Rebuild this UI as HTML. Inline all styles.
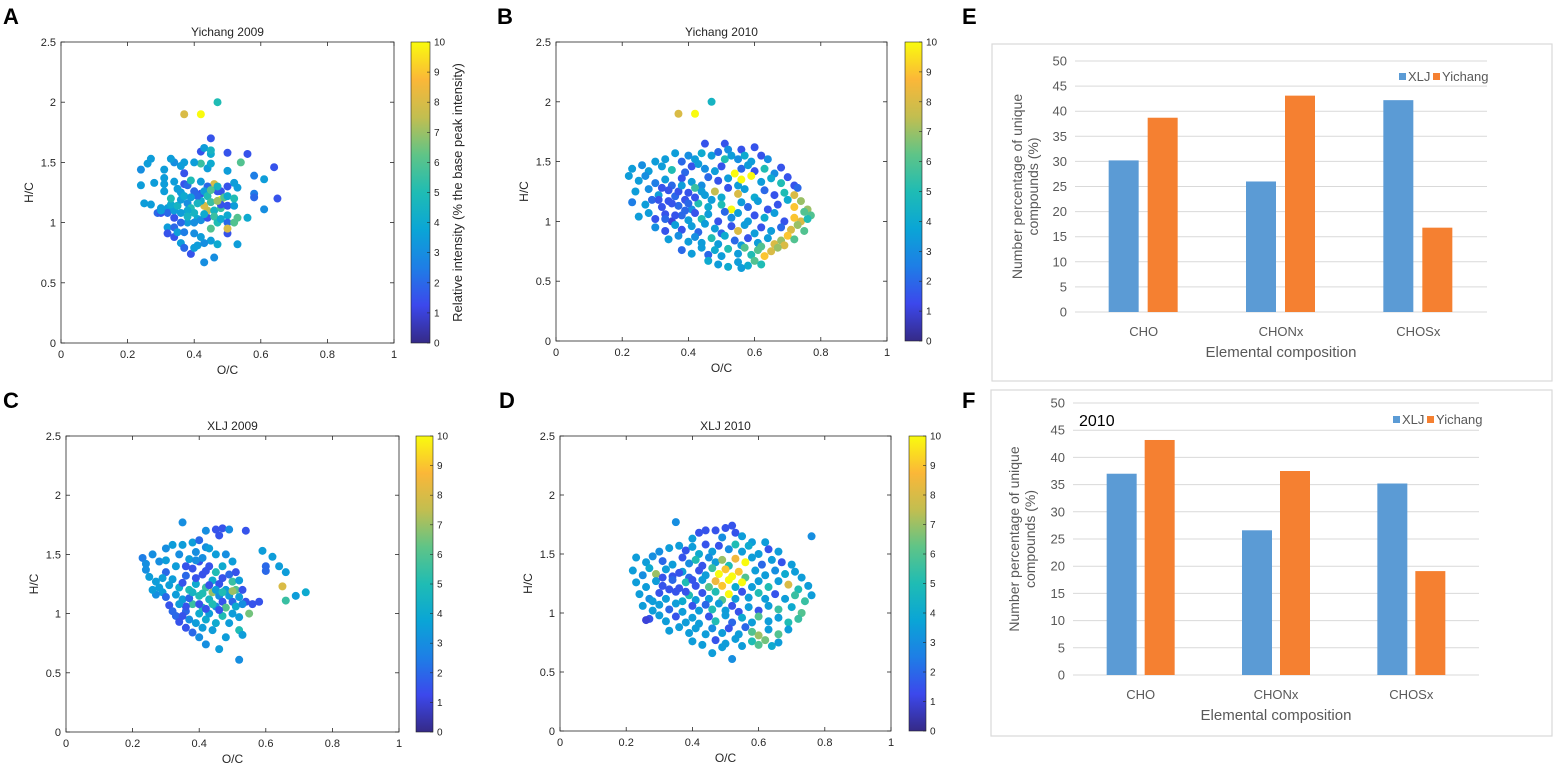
<!DOCTYPE html>
<html><head><meta charset="utf-8"><style>
body{margin:0;background:#fff;}
svg{display:block;font-family:"Liberation Sans",sans-serif;}
</style></head><body>
<svg id="fig" width="1556" height="765" viewBox="0 0 1556 765" xmlns="http://www.w3.org/2000/svg">
<defs>
<linearGradient id="parula" x1="0" y1="1" x2="0" y2="0">
<stop offset="0" stop-color="#352a87"/><stop offset="0.125" stop-color="#3c48ec"/><stop offset="0.25" stop-color="#1e7ee6"/><stop offset="0.375" stop-color="#0aa5d6"/><stop offset="0.5" stop-color="#1fbcb4"/><stop offset="0.625" stop-color="#5fc487"/><stop offset="0.75" stop-color="#c2be50"/><stop offset="0.875" stop-color="#fbb738"/><stop offset="1" stop-color="#f9fb0e"/>
</linearGradient>
</defs>
<g font-weight="bold" font-size="22" fill="#000">
<text x="3" y="24">A</text>
<text x="497" y="24">B</text>
<text x="3" y="408">C</text>
<text x="499" y="408">D</text>
<text x="962" y="24">E</text>
<text x="962" y="408">F</text>
</g>
</svg>
<script>
const ptsA=[[0.37,1.9,8],[0.42,1.9,10],[0.47,2.0,5],[0.45,1.7,1.5],[0.42,1.59,1.5],[0.43,1.62,3.5],[0.45,1.57,4],[0.45,1.6,4.5],[0.5,1.58,1.5],[0.56,1.57,1.5],[0.54,1.5,6],[0.64,1.46,1.5],[0.65,1.2,1.5],[0.61,1.11,3],[0.58,1.24,2.5],[0.58,1.21,2],[0.58,1.39,2.5],[0.61,1.36,3.5],[0.56,1.04,4],[0.53,0.82,3.5],[0.5,0.91,1.5],[0.5,1.43,3.5],[0.5,1.3,1.5],[0.48,1.26,1.5],[0.46,1.32,8],[0.44,1.3,2],[0.42,1.24,1.5],[0.42,1.34,3.5],[0.42,1.49,5.5],[0.44,1.45,3.5],[0.45,1.49,4],[0.4,1.5,3.5],[0.37,1.5,3.5],[0.36,1.47,3.5],[0.34,1.5,3],[0.33,1.53,3.5],[0.37,1.41,1.5],[0.37,1.32,1.5],[0.38,1.31,2],[0.39,1.35,5],[0.34,1.34,3.5],[0.31,1.44,3.5],[0.31,1.37,3.5],[0.31,1.32,3.5],[0.31,1.26,3.5],[0.28,1.33,3.5],[0.27,1.53,3.5],[0.26,1.49,3.5],[0.24,1.44,3],[0.24,1.31,3.5],[0.25,1.16,3.5],[0.27,1.15,3.5],[0.29,1.08,2],[0.3,1.12,3.5],[0.3,1.08,1.5],[0.32,1.12,3.5],[0.32,1.08,2],[0.32,0.96,3.5],[0.32,0.91,1.5],[0.34,0.96,2],[0.34,0.88,1.5],[0.35,0.92,3.5],[0.36,0.83,3.5],[0.37,0.79,2],[0.39,0.74,1.5],[0.4,0.79,3.5],[0.41,0.81,3.5],[0.43,0.67,3],[0.46,0.71,3],[0.45,0.85,3.5],[0.47,0.82,4],[0.43,0.83,3],[0.42,0.88,3.5],[0.4,0.91,3],[0.37,0.92,2.5],[0.38,1.0,3.5],[0.36,1.0,2],[0.34,1.04,1.5],[0.34,1.1,3.5],[0.33,1.15,4],[0.33,1.2,5],[0.35,1.14,4.5],[0.36,1.19,3.5],[0.36,1.25,3.5],[0.37,1.22,4],[0.38,1.16,3],[0.39,1.12,5],[0.4,1.08,4.5],[0.41,1.03,4],[0.4,1.0,3],[0.42,1.02,3],[0.44,1.04,1.5],[0.45,0.95,6],[0.44,1.1,7.5],[0.43,1.14,8],[0.42,1.18,4],[0.41,1.22,2],[0.43,1.26,3.5],[0.44,1.22,5],[0.45,1.17,5.5],[0.46,1.1,4.5],[0.46,1.05,5.5],[0.47,1.0,5],[0.48,1.03,4],[0.48,1.12,5.5],[0.48,1.19,10],[0.47,1.26,1.5],[0.49,1.21,6],[0.48,1.15,1.5],[0.5,1.14,1.5],[0.5,1.22,4],[0.5,1.06,4],[0.5,1.0,2],[0.52,1.0,6],[0.53,1.04,6],[0.5,0.95,8],[0.52,1.14,3.5],[0.53,1.29,3.5],[0.52,1.33,3.5],[0.52,1.2,5],[0.47,1.18,7],[0.45,1.27,6],[0.47,1.3,4.5],[0.4,1.26,2],[0.39,1.21,3.5],[0.38,1.1,4],[0.36,1.08,3.5],[0.38,1.05,4.5],[0.41,1.16,4.5],[0.43,1.07,4],[0.35,1.28,3.5],[0.3,1.1,3.5]];
const ptsB=[[0.37,1.9,8],[0.42,1.9,10],[0.47,2.0,4.5],[0.45,1.65,1.5],[0.51,1.65,1.5],[0.6,1.62,1.5],[0.56,1.6,1.5],[0.52,1.6,3],[0.36,1.57,3.5],[0.4,1.55,3],[0.42,1.52,3.5],[0.44,1.57,4],[0.47,1.55,3.5],[0.49,1.58,2],[0.51,1.52,5],[0.53,1.55,3.5],[0.55,1.52,3],[0.57,1.55,4],[0.59,1.5,3.5],[0.62,1.55,1.5],[0.64,1.52,3],[0.3,1.5,3.5],[0.33,1.52,3.5],[0.38,1.5,2],[0.26,1.47,3],[0.23,1.44,3.5],[0.28,1.42,3.5],[0.32,1.46,3.5],[0.35,1.43,5],[0.39,1.41,2],[0.41,1.46,1.5],[0.45,1.44,3],[0.48,1.42,3.5],[0.5,1.46,1.5],[0.54,1.4,10],[0.56,1.44,2],[0.58,1.47,3.5],[0.6,1.42,1.5],[0.63,1.44,5],[0.66,1.4,3],[0.68,1.45,1.5],[0.43,1.48,3.5],[0.22,1.38,3.5],[0.25,1.34,3.5],[0.27,1.38,3],[0.3,1.32,2.5],[0.33,1.35,3.5],[0.35,1.3,2],[0.38,1.36,1.5],[0.41,1.33,3.5],[0.44,1.3,3],[0.46,1.37,2],[0.49,1.34,1.5],[0.52,1.36,3.5],[0.55,1.3,3.5],[0.56,1.35,10],[0.59,1.38,10],[0.62,1.33,3.5],[0.65,1.36,4],[0.68,1.32,5],[0.7,1.37,1.5],[0.72,1.3,1.5],[0.24,1.25,3.5],[0.28,1.27,3],[0.31,1.22,3.5],[0.34,1.26,1.5],[0.36,1.21,2],[0.4,1.24,1.5],[0.42,1.28,5.5],[0.45,1.22,3.5],[0.48,1.25,7.5],[0.5,1.2,4],[0.52,1.28,1.5],[0.55,1.23,8],[0.57,1.27,3.5],[0.6,1.2,4],[0.63,1.26,2],[0.66,1.22,1.5],[0.69,1.24,5],[0.72,1.22,8],[0.74,1.17,7],[0.76,1.1,7],[0.73,1.28,2],[0.23,1.16,2.5],[0.27,1.14,3.5],[0.29,1.18,2],[0.32,1.12,1.5],[0.34,1.17,1.5],[0.37,1.13,2],[0.39,1.18,1.5],[0.41,1.1,3],[0.43,1.15,5],[0.46,1.12,4],[0.47,1.18,3.5],[0.5,1.14,5],[0.53,1.1,10],[0.56,1.16,3.5],[0.58,1.12,2],[0.61,1.17,3.5],[0.64,1.1,1.5],[0.67,1.14,1.5],[0.7,1.18,4],[0.72,1.12,9],[0.75,1.08,6],[0.77,1.05,6],[0.25,1.04,3.5],[0.28,1.07,3.5],[0.3,1.02,1.5],[0.33,1.06,1.5],[0.35,1.0,1],[0.38,1.05,2],[0.4,1.01,3.5],[0.42,1.07,1.5],[0.44,1.02,5],[0.46,1.06,3.5],[0.49,1.0,1.5],[0.51,1.08,2],[0.53,1.03,3],[0.55,1.07,3.5],[0.58,1.0,3.5],[0.6,1.05,1.5],[0.63,1.03,4],[0.66,1.07,3.5],[0.69,1.0,1.5],[0.72,1.03,9],[0.74,1.0,8],[0.76,1.02,5],[0.3,0.95,3],[0.33,0.92,1.5],[0.36,0.97,3.5],[0.38,0.93,1.5],[0.41,0.96,3.5],[0.43,0.91,2],[0.45,0.98,3.5],[0.48,0.94,3.5],[0.5,0.9,2],[0.53,0.96,1.5],[0.55,0.92,8],[0.57,0.97,3.5],[0.6,0.9,3.5],[0.62,0.95,1.5],[0.65,0.92,3.5],[0.68,0.95,2],[0.71,0.93,8],[0.73,0.97,7],[0.75,0.92,6],[0.34,0.85,3.5],[0.37,0.88,3],[0.4,0.83,3.5],[0.42,0.87,3],[0.44,0.82,3.5],[0.47,0.86,5],[0.49,0.81,3.5],[0.51,0.88,4],[0.54,0.84,2],[0.56,0.8,3.5],[0.58,0.86,1.5],[0.61,0.82,3.5],[0.64,0.86,3.5],[0.66,0.81,8],[0.68,0.84,7],[0.7,0.88,9],[0.72,0.85,6],[0.69,0.8,8],[0.38,0.76,2],[0.41,0.73,3.5],[0.44,0.78,3.5],[0.46,0.72,2],[0.48,0.76,4],[0.5,0.71,3.5],[0.52,0.77,5],[0.55,0.73,3.5],[0.57,0.78,6],[0.59,0.72,5],[0.61,0.76,6],[0.63,0.71,9],[0.65,0.75,8],[0.67,0.78,7],[0.62,0.79,6],[0.46,0.67,4],[0.49,0.64,3.5],[0.52,0.62,4],[0.55,0.66,3.5],[0.58,0.63,4],[0.6,0.67,6],[0.62,0.64,5],[0.56,0.61,3.5],[0.32,1.28,1.5],[0.35,1.15,1.5],[0.37,1.25,1.5],[0.39,1.09,2],[0.33,1.02,2],[0.36,1.05,1.5],[0.31,1.18,1.5],[0.4,1.15,2],[0.42,1.2,1.5],[0.44,1.25,3.5],[0.38,1.3,3.5]];
const ptsC=[[0.35,1.77,3],[0.52,0.61,3],[0.59,1.53,3.5],[0.62,1.48,3.5],[0.6,1.4,2],[0.6,1.36,2],[0.64,1.4,3.5],[0.66,1.35,3.5],[0.65,1.23,8],[0.66,1.11,5.5],[0.69,1.15,3.5],[0.72,1.18,4],[0.58,1.1,1.5],[0.56,1.08,1.5],[0.54,1.1,1.5],[0.55,1.0,6.5],[0.52,0.86,5],[0.53,0.82,3.5],[0.42,1.7,3],[0.45,1.71,1.5],[0.47,1.72,1.5],[0.49,1.71,3],[0.54,1.7,1.5],[0.46,1.66,1.5],[0.23,1.47,2.5],[0.24,1.42,3],[0.24,1.37,3],[0.25,1.31,3.5],[0.26,1.5,3],[0.27,1.27,3.5],[0.28,1.22,3.5],[0.28,1.44,3],[0.29,1.18,3.5],[0.3,1.55,3],[0.3,1.35,2],[0.3,1.14,2],[0.31,1.07,1.5],[0.32,1.58,3.5],[0.32,1.29,3.5],[0.32,1.02,2],[0.33,0.98,2],[0.33,1.4,3.5],[0.34,1.5,3],[0.34,1.22,4],[0.34,0.93,1.5],[0.35,1.58,3.5],[0.35,1.12,3.5],[0.36,1.32,2],[0.36,1.02,2],[0.36,0.88,1.5],[0.37,1.46,3.5],[0.37,1.2,5],[0.37,0.95,3],[0.38,1.6,3.5],[0.38,1.38,1.5],[0.38,1.08,5.5],[0.38,0.84,2],[0.39,1.52,3],[0.39,1.25,4],[0.39,0.92,3.5],[0.4,1.62,2],[0.4,1.44,1.5],[0.4,1.15,5],[0.4,1.0,4],[0.4,0.8,3],[0.41,1.33,1.5],[0.41,1.05,5],[0.41,0.88,3.5],[0.42,1.56,3],[0.42,1.22,5.5],[0.42,0.95,4],[0.42,0.74,3],[0.43,1.4,1.5],[0.43,1.12,4.5],[0.43,1.0,3.5],[0.44,1.28,4],[0.44,1.18,7],[0.44,0.86,3.5],[0.45,1.5,3.5],[0.45,1.35,5],[0.45,1.06,3],[0.45,0.92,4],[0.46,1.25,1.5],[0.46,1.15,3],[0.46,0.7,3.5],[0.47,1.4,4],[0.47,1.3,1.5],[0.47,1.1,1.5],[0.47,0.98,5],[0.48,1.2,3.5],[0.48,1.05,6],[0.48,0.8,3.5],[0.49,1.33,2],[0.49,1.15,3.5],[0.49,0.92,3.5],[0.5,1.44,3.5],[0.5,1.27,5.5],[0.5,1.1,2],[0.5,1.0,3.5],[0.51,1.35,1.5],[0.51,1.2,6],[0.51,1.06,4],[0.52,1.14,3.5],[0.52,1.28,3.5],[0.52,0.97,3.5],[0.53,1.2,1.5],[0.53,1.08,3],[0.33,1.16,3.5],[0.35,1.26,1.5],[0.36,1.06,1.5],[0.37,1.13,2],[0.38,1.18,4.5],[0.39,1.3,1.5],[0.4,1.08,1.5],[0.41,1.17,5],[0.42,1.04,1.5],[0.43,1.24,1.5],[0.44,1.08,5],[0.45,1.2,3.5],[0.46,1.03,1.5],[0.35,0.98,1.5],[0.34,1.08,3.5],[0.31,1.24,3.5],[0.29,1.3,3.5],[0.27,1.16,3],[0.26,1.2,3.5],[0.3,1.45,3.5],[0.39,1.45,3],[0.43,1.55,3.5],[0.48,1.5,3],[0.36,1.4,1.5],[0.42,1.36,1.5],[0.41,1.47,3],[0.47,1.18,5],[0.5,1.19,7]];
const ptsD=[[0.35,1.77,3],[0.76,1.65,3],[0.52,0.61,3],[0.46,0.66,3.5],[0.42,1.68,1.5],[0.44,1.7,1.5],[0.47,1.7,1.5],[0.5,1.72,1.5],[0.53,1.68,1.5],[0.52,1.74,1.5],[0.55,1.65,3.5],[0.49,1.64,3],[0.58,1.6,3.5],[0.62,1.6,3.5],[0.4,1.63,3.5],[0.3,1.52,3],[0.33,1.55,3.5],[0.36,1.57,3.5],[0.38,1.53,1.5],[0.4,1.56,3.5],[0.42,1.5,4],[0.44,1.58,1.5],[0.46,1.52,3.5],[0.48,1.57,1.5],[0.51,1.54,3],[0.53,1.58,5],[0.55,1.52,3.5],[0.57,1.57,4],[0.6,1.5,3.5],[0.63,1.54,1.5],[0.66,1.52,3.5],[0.23,1.47,3.5],[0.26,1.43,3.5],[0.28,1.48,3],[0.31,1.44,2],[0.34,1.41,3.5],[0.37,1.47,1.5],[0.39,1.42,3],[0.41,1.45,5],[0.43,1.4,1.5],[0.45,1.47,3],[0.47,1.43,3.5],[0.49,1.45,7],[0.51,1.4,5],[0.53,1.46,8.5],[0.56,1.43,10],[0.58,1.47,3.5],[0.61,1.41,2],[0.64,1.45,3.5],[0.67,1.43,1.5],[0.7,1.41,3.5],[0.22,1.36,3.5],[0.25,1.32,3],[0.27,1.38,4],[0.29,1.33,7],[0.32,1.37,3.5],[0.34,1.31,1.5],[0.37,1.35,3.5],[0.39,1.3,2],[0.42,1.36,1.5],[0.44,1.32,3.5],[0.46,1.38,5.5],[0.48,1.33,10],[0.5,1.37,9],[0.52,1.31,10],[0.54,1.35,9],[0.56,1.3,6],[0.59,1.36,3.5],[0.62,1.32,3.5],[0.65,1.36,3],[0.68,1.33,4],[0.71,1.35,3.5],[0.73,1.3,3.5],[0.23,1.26,3.5],[0.26,1.22,3.5],[0.29,1.27,3.5],[0.31,1.23,1.5],[0.34,1.28,2],[0.36,1.21,1.5],[0.38,1.26,5],[0.41,1.23,1.5],[0.43,1.28,3.5],[0.45,1.22,6],[0.47,1.27,8.5],[0.49,1.23,9],[0.51,1.28,10],[0.53,1.22,4],[0.55,1.26,10],[0.58,1.22,3.5],[0.6,1.27,3.5],[0.63,1.22,5],[0.66,1.27,3.5],[0.69,1.24,8],[0.72,1.2,5],[0.75,1.23,3.5],[0.24,1.16,3.5],[0.27,1.12,3],[0.3,1.17,1.5],[0.32,1.12,3.5],[0.35,1.18,1.5],[0.37,1.1,4],[0.39,1.15,5],[0.41,1.11,3.5],[0.43,1.17,1.5],[0.45,1.12,3.5],[0.47,1.18,5],[0.49,1.11,6],[0.51,1.16,10],[0.53,1.12,3.5],[0.55,1.18,1.5],[0.57,1.13,3.5],[0.6,1.17,5],[0.62,1.12,3.5],[0.65,1.16,1.5],[0.68,1.12,3.5],[0.71,1.15,5.5],[0.74,1.1,5.5],[0.76,1.15,3.5],[0.25,1.06,3.5],[0.28,1.02,3.5],[0.3,1.07,3.5],[0.33,1.03,2],[0.35,1.08,3.5],[0.37,1.01,3.5],[0.4,1.06,1.5],[0.42,1.02,3.5],[0.44,1.07,2],[0.46,1.03,5],[0.48,1.08,3.5],[0.5,1.02,3.5],[0.52,1.06,1.5],[0.54,1.01,1.5],[0.57,1.05,3.5],[0.6,1.02,1.5],[0.63,1.06,3.5],[0.66,1.03,5.5],[0.7,1.05,4],[0.73,1.0,6],[0.27,0.95,1.5],[0.3,0.98,3.5],[0.32,0.93,3.5],[0.35,0.97,1.5],[0.38,0.92,3.5],[0.4,0.96,3.5],[0.42,0.91,3.5],[0.45,0.97,1.5],[0.47,0.93,5],[0.5,0.98,3.5],[0.52,0.92,2],[0.55,0.96,4],[0.58,0.92,3.5],[0.6,0.97,6],[0.63,0.93,3.5],[0.66,0.96,3.5],[0.69,0.92,5],[0.72,0.95,5.5],[0.33,0.85,3.5],[0.36,0.88,3.5],[0.39,0.83,3.5],[0.41,0.87,3.5],[0.44,0.82,3.5],[0.46,0.87,3],[0.49,0.83,3.5],[0.51,0.87,1.5],[0.54,0.82,3.5],[0.56,0.88,2],[0.58,0.84,6],[0.6,0.81,7],[0.63,0.86,3.5],[0.66,0.82,6],[0.69,0.86,3.5],[0.4,0.76,3.5],[0.43,0.73,3.5],[0.47,0.77,1.5],[0.5,0.74,3.5],[0.53,0.78,3.5],[0.55,0.72,3.5],[0.58,0.76,5],[0.6,0.73,6],[0.62,0.77,6.5],[0.64,0.72,4],[0.66,0.75,3.5],[0.49,0.71,3.5],[0.31,1.3,1.5],[0.36,1.34,1.5],[0.38,1.18,1.5],[0.33,1.2,1.5],[0.4,1.28,1.5],[0.26,0.94,1],[0.28,1.1,3.5]];
const xTicks=[0,0.2,0.4,0.6,0.8,1];
const xTickLabels=["0","0.2","0.4","0.6","0.8","1"];
const yTicks=[0,0.5,1,1.5,2,2.5];
const yTickLabels=["0","0.5","1","1.5","2","2.5"];
const cbTicks=[0,1,2,3,4,5,6,7,8,9,10];
const categories=["CHO","CHONx","CHOSx"];
const seriesNames=["XLJ","Yichang"];
const xljE=[30.2,26.0,42.2];
const yichangE=[38.7,43.1,16.8];
const xljF=[37.0,26.6,35.2];
const yichangF=[43.2,37.5,19.1];
const barTicks=[0,5,10,15,20,25,30,35,40,45,50];

const NS="http://www.w3.org/2000/svg";
const svg=document.getElementById('fig');
function mk(tag,attrs,parent,text){const e=document.createElementNS(NS,tag);for(const k in attrs)e.setAttribute(k,attrs[k]);if(text!==undefined)e.textContent=text;(parent||svg).appendChild(e);return e;}
const stops=[[53,42,135],[60,72,236],[30,126,230],[10,165,214],[31,188,180],[95,196,135],[194,190,80],[251,183,56],[249,251,14]];
function parula(v){let t=Math.max(0,Math.min(1,v/10))*(stops.length-1);let i=Math.min(stops.length-2,Math.floor(t));let f=t-i;const a=stops[i],b=stops[i+1];return 'rgb('+[0,1,2].map(k=>Math.round(a[k]+(b[k]-a[k])*f)).join(',')+')';}

function scatterPanel(pts,P){
  const g=mk('g',{});
  
  
  const sx=v=>P.x0+(P.x1-P.x0)*v;
  const sy=v=>P.y0+(P.y1-P.y0)*v/2.5;
  const ttl=mk('text',{x:(P.x0+P.x1)/2,y:P.y1-6,'text-anchor':'middle','font-size':12,fill:'#262626'},g,P.title);
  
  
  pts.forEach(p=>{
    const c=mk('circle',{cx:sx(p[0]),cy:sy(p[1]),r:4,fill:parula(p[2])},g);
    
    
  });
  const box=mk('rect',{x:P.x0,y:P.y1,width:P.x1-P.x0,height:P.y0-P.y1,fill:'none',stroke:'#262626','stroke-width':0.8},g);
  
  
  xTicks.forEach((t,i)=>{
    const x=sx(t);
    mk('line',{x1:x,x2:x,y1:P.y0,y2:P.y0-4,stroke:'#262626','stroke-width':0.8},g);
    mk('line',{x1:x,x2:x,y1:P.y1,y2:P.y1+4,stroke:'#262626','stroke-width':0.8},g);
    const l=mk('text',{x:x,y:P.y0+15,'text-anchor':'middle','font-size':11,fill:'#262626'},g,xTickLabels[i]);
    
    
  });
  yTicks.forEach((t,i)=>{
    const y=sy(t);
    mk('line',{x1:P.x0,x2:P.x0+4,y1:y,y2:y,stroke:'#262626','stroke-width':0.8},g);
    mk('line',{x1:P.x1,x2:P.x1-4,y1:y,y2:y,stroke:'#262626','stroke-width':0.8},g);
    const l=mk('text',{x:P.x0-5,y:y+4,'text-anchor':'end','font-size':11,fill:'#262626'},g,yTickLabels[i]);
    
    
  });
  const xl=mk('text',{x:(P.x0+P.x1)/2,y:P.y0+31,'text-anchor':'middle','font-size':12,fill:'#262626'},g,'O/C');
  
  
  const yx=P.x0-28,yy=(P.y0+P.y1)/2;
  const yl=mk('text',{x:yx,y:yy,'text-anchor':'middle','font-size':12,fill:'#262626',transform:`rotate(-90 ${yx} ${yy})`},g,'H/C');
  
  
  const cb=mk('rect',{x:P.cb,y:P.y1,width:P.cbw,height:P.y0-P.y1,fill:'url(#parula)',stroke:'#262626','stroke-width':0.6},g);
  
  
  cbTicks.forEach(t=>{
    const y=P.y0-(P.y0-P.y1)*t/10;
    mk('line',{x1:P.cb+P.cbw,x2:P.cb+P.cbw-3,y1:y,y2:y,stroke:'#262626','stroke-width':0.6},g);
    const l=mk('text',{x:P.cb+P.cbw+4,y:y+3.5,'font-size':10,fill:'#262626'},g,String(t));
    
    
  });
  if(P.cbLabel){
    const lx=P.cb+P.cbw+32,ly=(P.y0+P.y1)/2;
    const l=mk('text',{x:lx,y:ly,'text-anchor':'middle','font-size':13,fill:'#262626',transform:`rotate(-90 ${lx} ${ly})`},g,'Relative intensity (% the base peak intensity)');
    
    
  }
}
scatterPanel(ptsA,{name:'scatter-yichang-2009',title:'Yichang 2009',x0:61,x1:394,y0:343,y1:42,cb:411,cbw:19,cbLabel:true});
scatterPanel(ptsB,{name:'scatter-yichang-2010',title:'Yichang 2010',x0:556,x1:887,y0:341,y1:42,cb:905,cbw:17});
scatterPanel(ptsC,{name:'scatter-xlj-2009',title:'XLJ 2009',x0:66,x1:399,y0:732,y1:436,cb:416,cbw:17});
scatterPanel(ptsD,{name:'scatter-xlj-2010',title:'XLJ 2010',x0:560,x1:891,y0:731,y1:436,cb:909,cbw:17});

function barPanel(a,b,P){
  const g=mk('g',{});
  
  
  const fr=mk('rect',{x:P.bx,y:P.by,width:P.bw,height:P.bh,fill:'#fff',stroke:'#d9d9d9','stroke-width':1.2},g);
  
  
  const sy=v=>P.y0+(P.y50-P.y0)*v/50;
  barTicks.forEach(t=>{
    mk('line',{x1:P.gx0,x2:P.gx1,y1:sy(t),y2:sy(t),stroke:'#d9d9d9','stroke-width':1},g);
    const l=mk('text',{x:P.gx0-8,y:sy(t)+4.5,'text-anchor':'end','font-size':13,fill:'#595959'},g,String(t));
    
    
  });
  const band=(P.gx1-P.gx0)/categories.length;
  categories.forEach((cat,i)=>{
    const cx=P.gx0+band*(i+0.5);
    const r1=mk('rect',{x:cx+P.off1,y:sy(a[i]),width:P.bwid,height:sy(0)-sy(a[i]),fill:'#5b9bd5'},g);
    
    
    const r2=mk('rect',{x:cx+P.off2,y:sy(b[i]),width:P.bwid,height:sy(0)-sy(b[i]),fill:'#f58031'},g);
    
    
    const l=mk('text',{x:cx,y:P.y0+24,'text-anchor':'middle','font-size':13,fill:'#595959'},g,cat);
    
    
  });
  const xt=mk('text',{x:(P.gx0+P.gx1)/2,y:P.y0+45,'text-anchor':'middle','font-size':15,fill:'#595959'},g,'Elemental composition');
  
  
  const yc=(P.y0+P.y50)/2;
  const t1=mk('text',{x:P.yt,y:yc,'text-anchor':'middle','font-size':14,fill:'#595959',transform:`rotate(-90 ${P.yt} ${yc})`},g,'Number percentage of unique');
  
  
  const t2=mk('text',{x:P.yt+16,y:yc,'text-anchor':'middle','font-size':14,fill:'#595959',transform:`rotate(-90 ${P.yt+16} ${yc})`},g,'compounds (%)');
  
  
  const colors=['#5b9bd5','#f58031'];
  seriesNames.forEach((s,i)=>{
    const lx=P.lx+i*34;
    const sq=mk('rect',{x:lx,y:P.ly-8,width:7,height:7,fill:colors[i]},g);
    
    
    const lt=mk('text',{x:lx+9,y:P.ly,'font-size':13,fill:'#595959'},g,s);
    
    
  });
  if(P.year){
    const yt=mk('text',{x:P.gx0+6,y:P.y50+23,'font-size':16,fill:'#000'},g,P.year);
    
    
  }
}
barPanel(xljE,yichangE,{name:'bar-chart-2009',bx:992,by:44,bw:560,bh:337,y0:312,y50:61,gx0:1075,gx1:1487,off1:-35,off2:4,bwid:30,yt:1022,lx:1399,ly:81});
barPanel(xljF,yichangF,{name:'bar-chart-2010',bx:991,by:390,bw:561,bh:346,y0:675,y50:403,gx0:1073,gx1:1479,off1:-34,off2:4,bwid:30,yt:1019,lx:1393,ly:424,year:'2010'});
</script>
</body></html>
